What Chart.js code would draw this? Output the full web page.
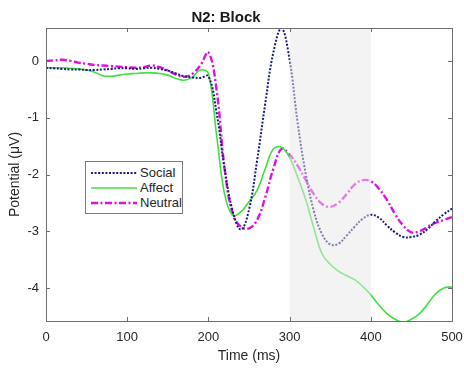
<!DOCTYPE html>
<html>
<head>
<meta charset="utf-8">
<script src="https://cdn.jsdelivr.net/npm/chart.js@4.4.0/dist/chart.umd.min.js"></script>
<style>
  body { margin: 0; background: #fff; }
  #wrap { position: relative; width: 464px; height: 369px; }
  #legend {
    position: absolute; left: 85px; top: 161px; width: 96px; height: 51px;
    border: 1px solid #7a7a7a; background: #fff;
    font-family: "Liberation Sans", Arial, sans-serif; font-size: 13px; color: #262626;
  }
  #legend .row { position: absolute; left: 4px; height: 15px; line-height: 15px; white-space: nowrap; }
  #legend svg { position: absolute; left: 0; top: 0; }
  #legend span { position: absolute; left: 50px; top: 0; }
</style>
</head>
<body>
<div id="wrap">
  <canvas id="erpChart" width="464" height="369"></canvas>
  <div id="legend">
    <div class="row" style="top:3px"><svg width="48" height="15"><line x1="1" y1="8" x2="47" y2="8" stroke="#1a1a80" stroke-width="2" stroke-dasharray="2,1.6"/></svg><span>Social</span></div>
    <div class="row" style="top:18px"><svg width="48" height="15"><line x1="1" y1="8" x2="47" y2="8" stroke="#3ee03e" stroke-width="1.6"/></svg><span>Affect</span></div>
    <div class="row" style="top:33px"><svg width="48" height="15"><line x1="1" y1="8" x2="47" y2="8" stroke="#e010e0" stroke-width="2.4" stroke-dasharray="7,2.5,2,2.5"/></svg><span>Neutral</span></div>
  </div>
</div>
<script>
// time points (ms) and grand-average amplitudes (uV)
var timeMs = [0, 10, 20, 30, 40, 50, 60, 70, 80, 90,
              100, 110, 120, 130, 140, 150, 160, 170, 180, 190,
              200, 210, 220, 230, 240, 250, 260, 270, 280, 290,
              300, 310, 320, 330, 340, 350, 360, 370, 380, 390,
              400, 410, 420, 430, 440, 450, 460, 470, 480, 490, 500];

var social = [-0.12, -0.13, -0.14, -0.15, -0.15, -0.16, -0.16, -0.15, -0.14, -0.13,
              -0.13, -0.14, -0.13, -0.12, -0.14, -0.17, -0.22, -0.27, -0.29, -0.30,
              -0.27, -0.90, -1.90, -2.65, -2.97, -2.62, -1.75, -0.75, 0.15, 0.58,
              0.02, -1.10, -2.00, -2.65, -3.05, -3.23, -3.22, -3.08, -2.92, -2.78,
              -2.71, -2.76, -2.90, -3.02, -3.10, -3.10, -3.06, -2.96, -2.82, -2.70, -2.60];

var affect = [-0.12, -0.12, -0.12, -0.13, -0.14, -0.16, -0.20, -0.26, -0.27, -0.25,
              -0.23, -0.22, -0.21, -0.21, -0.22, -0.25, -0.31, -0.34, -0.29, -0.16,
              -0.22, -1.30, -2.35, -2.72, -2.66, -2.48, -2.28, -1.90, -1.55, -1.52,
              -1.70, -2.05, -2.45, -2.95, -3.40, -3.58, -3.70, -3.78, -3.85, -3.97,
              -4.12, -4.30, -4.45, -4.55, -4.60, -4.55, -4.45, -4.28, -4.10, -4.00, -3.98];

var neutral = [0.00, 0.01, 0.02, 0.00, -0.03, -0.05, -0.07, -0.08, -0.09, -0.10,
               -0.11, -0.12, -0.11, -0.08, -0.11, -0.17, -0.24, -0.28, -0.23, -0.08,
               0.15, -0.50, -1.90, -2.70, -2.92, -2.95, -2.80, -2.40, -1.90, -1.55,
               -1.65, -1.85, -2.10, -2.35, -2.52, -2.57, -2.50, -2.35, -2.18, -2.10,
               -2.12, -2.25, -2.45, -2.70, -2.90, -3.02, -3.00, -2.92, -2.85, -2.80, -2.75];

var xTicks = [0, 100, 200, 300, 400, 500];
var yTicks = [-4, -3, -2, -1, 0];
var window300to400 = [300, 400];

function toPoints(arr){
    return timeMs.map(function(t, i){ return {x: t, y: arr[i]}; });
}

// grey analysis window, drawn over the lines like the matlab patch
var windowPlugin = {
    id: 'windowPatch',
    afterDatasetsDraw: function(chart){
        var ctx = chart.ctx, area = chart.chartArea, xs = chart.scales.x;
        var x0 = xs.getPixelForValue(window300to400[0]);
        var x1 = xs.getPixelForValue(window300to400[1]);
        ctx.save();
        ctx.fillStyle = 'rgba(232,232,232,0.5)';
        ctx.fillRect(x0, area.top, x1 - x0, area.bottom - area.top);
        ctx.restore();
    }
};

// box round the axes with inward ticks
var boxPlugin = {
    id: 'axesBox',
    afterDraw: function(chart){
        var ctx = chart.ctx, a = chart.chartArea;
        var xs = chart.scales.x, ys = chart.scales.y;
        var len = 4;
        ctx.save();
        ctx.strokeStyle = '#6e6e6e';
        ctx.lineWidth = 1;
        ctx.beginPath();
        xTicks.forEach(function(v){
            var px = Math.round(xs.getPixelForValue(v)) + 0.5;
            ctx.moveTo(px, a.bottom); ctx.lineTo(px, a.bottom - len);
            ctx.moveTo(px, a.top); ctx.lineTo(px, a.top + len);
        });
        yTicks.forEach(function(v){
            var py = Math.round(ys.getPixelForValue(v)) + 0.5;
            ctx.moveTo(a.left, py); ctx.lineTo(a.left + len, py);
            ctx.moveTo(a.right, py); ctx.lineTo(a.right - len, py);
        });
        ctx.stroke();
        ctx.strokeRect(Math.round(a.left) + 0.5, Math.round(a.top) + 0.5,
                       Math.round(a.right - a.left), Math.round(a.bottom - a.top));
        ctx.restore();
    }
};

window.onload = function(){
    var ctx = document.getElementById('erpChart').getContext('2d');
    var fontFam = '"Liberation Sans", Arial, sans-serif';

    var config = {
        type: 'line',
        data: {
            datasets: [{
                label: 'Social',
                data: toPoints(social),
                borderColor: '#1a1a80',
                borderWidth: 2,
                borderDash: [2, 1.6],
                pointRadius: 0,
                tension: 0.4
            }, {
                label: 'Affect',
                data: toPoints(affect),
                borderColor: '#3ee03e',
                borderWidth: 1.6,
                pointRadius: 0,
                tension: 0.4
            }, {
                label: 'Neutral',
                data: toPoints(neutral),
                borderColor: '#e010e0',
                borderWidth: 2.4,
                borderDash: [7, 2.5, 2, 2.5],
                pointRadius: 0,
                tension: 0.4
            }]
        },
        options: {
            responsive: false,
            animation: false,
            layout: { padding: { left: 0, right: 12, top: 0, bottom: 0 } },
            scales: {
                x: {
                    type: 'linear',
                    min: 0,
                    max: 500,
                    afterFit: function(scale){
                        scale.height = 48;
                        scale.paddingLeft = 0;
                        scale.paddingRight = 0;
                    },
                    afterBuildTicks: function(scale){
                        scale.ticks = xTicks.map(function(v){ return {value: v}; });
                    },
                    grid: { display: false, drawTicks: false },
                    border: { display: false },
                    ticks: { color: '#262626', padding: 9, maxRotation: 0,
                             font: { family: fontFam, size: 13 } },
                    title: {
                        display: true,
                        text: 'Time (ms)',
                        color: '#262626',
                        padding: { top: 0, bottom: 4 },
                        font: { family: fontFam, size: 14 }
                    }
                },
                y: {
                    min: -4.58,
                    max: 0.58,
                    afterFit: function(scale){ scale.width = 46; },
                    afterBuildTicks: function(scale){
                        scale.ticks = yTicks.map(function(v){ return {value: v}; });
                    },
                    grid: { display: false, drawTicks: false },
                    border: { display: false },
                    ticks: { color: '#262626', padding: 7,
                             font: { family: fontFam, size: 13 } },
                    title: {
                        display: true,
                        text: 'Potential (\u03BCV)',
                        color: '#262626',
                        padding: { top: 7, bottom: 0 },
                        font: { family: fontFam, size: 14 }
                    }
                }
            },
            plugins: {
                legend: { display: false },
                tooltip: { enabled: false },
                title: {
                    display: true,
                    text: 'N2: Block',
                    color: '#1a1a1a',
                    padding: { top: 9, bottom: 1 },
                    font: { family: fontFam, size: 15, weight: 'bold' }
                }
            }
        },
        plugins: [windowPlugin, boxPlugin]
    };

    var erpChart = new Chart(ctx, config);
};
</script>
</body>
</html>
